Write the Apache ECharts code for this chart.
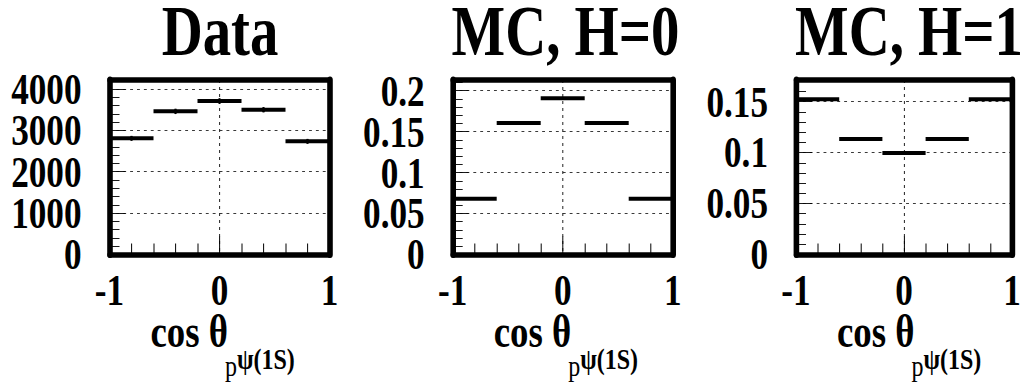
<!DOCTYPE html>
<html><head><meta charset="utf-8">
<script src="https://cdn.jsdelivr.net/npm/echarts@6/dist/echarts.min.js"></script>
<style>
html,body{margin:0;padding:0;background:#fff;overflow:hidden;width:1023px;height:384px;}
#wrap{width:1023px;height:384px;overflow:hidden;position:relative;}
#chart{width:1279px;height:384px;transform:scaleX(0.8);transform-origin:0 0;position:absolute;left:0;top:0;}
</style></head><body><div id="wrap"><div id="chart"></div></div>
<script>
// ---- data ----
const binEdges = [-1, -0.6, -0.2, 0.2, 0.6, 1];
const dataValues = [2807, 3459, 3708, 3498, 2734];
const dataErrors = [60, 65, 70, 65, 60];
const mcH0Values = [0.068, 0.1605, 0.1909, 0.1605, 0.068];
const mcH1Values = [0.1524, 0.1133, 0.0996, 0.1133, 0.1524];
const panelTitles = ['Data', 'MC, H=0', 'MC, H=1'];
const yMax = [4217, 0.2131, 0.1712];
const yInterval = [1000, 0.05, 0.05];
const xRange = [-1, 1];

// ---- layout (chart drawn 1/0.8 wider then squeezed horizontally) ----
const SX = 0.8;
const gridLeft = [109.5 / SX, 452.7 / SX, 796 / SX];
const gridW = 220 / SX;
const gridTop = 80, gridH = 174.5;
const titleCenter = [220 / SX, 565.5 / SX, 909 / SX];

const FONT = 'Liberation Serif';
const series = [], xAxes = [], yAxes = [], grids = [], graphics = [];
const panelValues = [dataValues, mcH0Values, mcH1Values];
const panelErrors = [dataErrors, null, null];

function makeRender(hasErr) {
  return function (params, api) {
    const lo = api.value(0), hi = api.value(1), v = api.value(2);
    const p1 = api.coord([lo, v]), p2 = api.coord([hi, v]);
    const ch = [{ type: 'line', shape: { x1: p1[0], y1: p1[1], x2: p2[0], y2: p2[1] },
      style: { stroke: '#000', lineWidth: 4, lineCap: 'butt' } }];
    if (hasErr) {
      const e = api.value(3), c = (lo + hi) / 2;
      const a = api.coord([c, v + e]), b = api.coord([c, v - e]);
      ch.push({ type: 'line', shape: { x1: a[0], y1: a[1], x2: b[0], y2: b[1] },
        style: { stroke: '#000', lineWidth: 2.5 } });
      const m = api.coord([c, v]);
      ch.push({ type: 'ellipse', shape: { cx: m[0], cy: m[1], rx: 2.6, ry: 2.2 },
        style: { fill: '#000' } });
    }
    return { type: 'group', children: ch };
  };
}

const dotH = { color: '#222', width: 1, type: [3.6, 5] };
const dotV = { color: '#222', width: 1.25, type: [3, 4] };
const labelFont = { fontFamily: FONT, fontWeight: 'bold', fontSize: 44, color: '#000' };

function fmtFor(iv, onlyZero) {
  return function (v) {
    const k = v / iv;
    if (Math.abs(k - Math.round(k)) > 1e-6) return '';
    if (onlyZero !== (Math.abs(v) < 1e-12)) return '';
    return String(+v.toFixed(4));
  };
}

for (let i = 0; i < 3; i++) {
  grids.push({ left: gridLeft[i], top: gridTop, width: gridW, height: gridH, containLabel: false });
  xAxes.push({
    type: 'value', gridIndex: i, position: 'bottom', min: xRange[0], max: xRange[1], interval: 1,
    axisLine: { onZero: false, lineStyle: { color: '#000', width: 5.5 } },
    axisTick: { inside: true, length: 18, lineStyle: { color: '#000', width: 1.25 } },
    minorTick: { show: true, splitNumber: 5, length: 11, lineStyle: { color: '#000', width: 1.25 } },
    splitLine: { show: true, lineStyle: dotV },
    axisLabel: Object.assign({ margin: 14, showMinLabel: true, showMaxLabel: true }, labelFont)
  });
  xAxes.push({
    type: 'value', gridIndex: i, position: 'top', min: xRange[0], max: xRange[1],
    axisLine: { onZero: false, lineStyle: { color: '#000', width: 5.5 } },
    axisTick: { show: false }, axisLabel: { show: false }, splitLine: { show: false }
  });
  const iv = yInterval[i];
  // main left axis: frame, ticks, grid, labels except 0
  yAxes.push({
    type: 'value', gridIndex: i, position: 'left', min: 0, max: yMax[i], interval: iv,
    axisLine: { onZero: false, lineStyle: { color: '#000', width: 7 } },
    axisTick: { inside: true, length: 20, lineStyle: { color: '#000', width: 1 } },
    minorTick: { show: true, splitNumber: 5, length: 12.5, lineStyle: { color: '#000', width: 1 } },
    splitLine: { show: true, lineStyle: dotH },
    axisLabel: Object.assign({ margin: 35, showMinLabel: false, formatter: fmtFor(iv, false) }, labelFont)
  });
  // right frame edge
  yAxes.push({
    type: 'value', gridIndex: i, position: 'right', min: 0, max: yMax[i],
    axisLine: { onZero: false, lineStyle: { color: '#000', width: 7 } },
    axisTick: { show: false }, axisLabel: { show: false }, splitLine: { show: false }
  });
  // overlay left axis carrying only the "0" label
  yAxes.push({
    type: 'value', gridIndex: i, position: 'left', min: 0, max: yMax[i], interval: iv,
    axisLine: { show: false, onZero: false }, axisTick: { show: false }, splitLine: { show: false },
    axisLabel: Object.assign({ margin: 35, showMinLabel: true, formatter: fmtFor(iv, true) }, labelFont)
  });
  const vals = panelValues[i], errs = panelErrors[i];
  const d = vals.map((v, k) => [binEdges[k], binEdges[k + 1], v, errs ? errs[k] : 0]);
  series.push({
    type: 'custom', xAxisIndex: 2 * i, yAxisIndex: 3 * i, data: d, clip: false, z: 5,
    renderItem: makeRender(!!errs), silent: true
  });
  graphics.push({
    type: 'text', x: titleCenter[i], y: 31.5,
    style: { text: panelTitles[i], fontFamily: FONT, fontWeight: 'bold', fontSize: 71, lineHeight: 56,
      fill: '#000', align: 'center', verticalAlign: 'middle' }
  });
  const x0 = gridLeft[i];
  graphics.push({
    type: 'text', x: x0 + 41 / SX, y: 331.5,
    style: { text: 'cos θ', fontFamily: FONT, fontWeight: 'bold', fontSize: 46, lineHeight: 38,
      fill: '#000', align: 'left', verticalAlign: 'middle' }
  });
  graphics.push({
    type: 'text', x: x0 + 115.5 / SX, y: 344,
    style: {
      text: '{b|p}{c|ψ(1S)}', align: 'left', verticalAlign: 'top',
      rich: {
        b: { fontFamily: FONT, fontWeight: 'normal', fontSize: 30, lineHeight: 37, verticalAlign: 'bottom', fill: '#000' },
        c: { fontFamily: FONT, fontWeight: 'bold', fontSize: 30, lineHeight: 37, verticalAlign: 'top', fill: '#000' }
      }
    }
  });
}

const chart = echarts.init(document.getElementById('chart'), null, { renderer: 'svg' });
chart.setOption({
  backgroundColor: '#fff',
  animation: false,
  grid: grids, xAxis: xAxes, yAxis: yAxes, series: series, graphic: graphics
});
</script></body></html>
